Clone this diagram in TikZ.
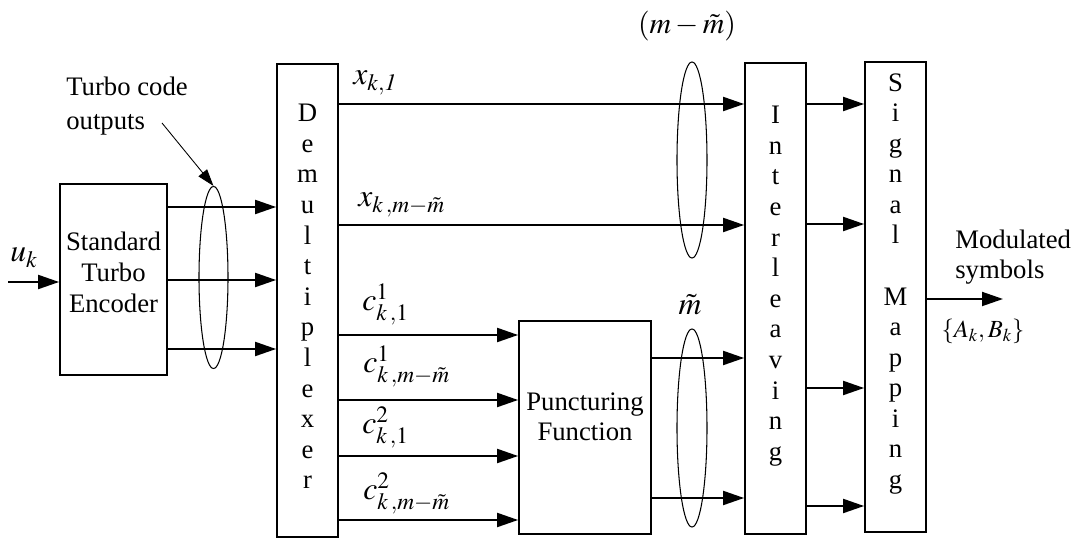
\documentclass[tikz,border=0pt]{standalone}
\usepackage{mathptmx}
\usepackage{fontspec}
\setmainfont{Liberation Serif}
\usetikzlibrary{arrows.meta}
\usetikzlibrary{shapes.geometric}

\begin{document}
\begin{tikzpicture}[x=0.2mm, y=-0.2mm,
  blk/.style={draw, line width=1pt, inner sep=0pt},
  bundle/.style={draw, ellipse, line width=0.6pt, inner sep=0pt,
    minimum width=6mm},
  txt/.style={inner sep=0pt, align=center,
    font=\fontsize{15.2}{17.4}\selectfont},
  lbl/.style={inner sep=0pt, anchor=base west,
    font=\fontsize{18}{20}\selectfont},
  sig/.style={line width=1.1pt, -{Triangle[length=4.2mm, width=2.8mm]}}]
  \useasboundingbox (0,0) rectangle (1073,538);
  % the five blocks, left to right
  \node[blk, minimum width=21.4mm, minimum height=38.2mm] (enc) at (113.5,279.5) {};
  \node[blk, minimum width=12.2mm, minimum height=94.6mm] (dmx) at (307.5,300.5) {};
  \node[blk, minimum width=26.4mm, minimum height=42.6mm] (pun) at (585,427.5) {};
  \node[blk, minimum width=12.2mm, minimum height=94.2mm] (intl) at (775.5,298.5) {};
  \node[blk, minimum width=12.2mm, minimum height=94mm] (map) at (895.5,297) {};
  % block texts
  \node[txt, anchor=north] (enc-t) at (113.5,232) {Standard\\Turbo\\Encoder};
  \node[txt, anchor=north] (dmx-t) at (307.5,104)
    {D\\e\\m\\u\\l\\t\\i\\p\\l\\e\\x\\e\\r};
  \node[txt, anchor=north] (pun-t) at (585,392) {Puncturing\\Function};
  \node[txt, anchor=north] (intl-t) at (775.5,106)
    {I\\n\\t\\e\\r\\l\\e\\a\\v\\i\\n\\g};
  \node[txt, anchor=north] (map-t) at (895.5,73)
    {S\\i\\g\\n\\a\\l\\\mbox{}\\M\\a\\p\\p\\i\\n\\g};
  % bundles of lines
  \node[bundle, minimum width=5.8mm, minimum height=36.4mm] (b1) at (213.5,277.5) {};
  \node[bundle, minimum height=39.2mm] (b2) at (692,160) {};
  \node[bundle, minimum height=39.6mm] (b3) at (692,428) {};
  % input and encoder outputs
  \coordinate (uin) at (8,282);
  \draw[sig] (uin) -- (enc.west |- uin);
  \node[lbl] (uk) at (10,262) {$u_k$};
  \foreach \y in {207,280,349}
    \draw[sig] (enc.east |- 0,\y) -- (dmx.west |- 0,\y);
  \node[txt, anchor=north west, align=left,
    font=\fontsize{15.2}{19}\selectfont] (tco) at (66,77) {Turbo code\\outputs};
  \coordinate (tco-a) at (162,123);
  \draw[line width=0.5pt, -{Triangle[length=3.4mm, width=2.2mm]}] (tco-a) -- (b1.north);
  % systematic bits straight to the interleaver
  \foreach \y in {104,225}
    \draw[sig] (dmx.east |- 0,\y) -- (intl.west |- 0,\y);
  \node[lbl] (x1) at (353,85) {$x_{k,\mathit{1}}$};
  \node[lbl] (xm) at (358,207) {$x_{k\,,m-\tilde{m}}$};
  \node[lbl, anchor=center, font=\fontsize{17}{19}\selectfont] (mmt) at (687,26)
    {$(m-\tilde{m})$};
  % parity bits through the puncturing
  \foreach \y in {335,400,456,520}
    \draw[sig] (dmx.east |- 0,\y) -- (pun.west |- 0,\y);
  \node[lbl] (c11) at (362,311) {$c^{1}_{k\,,1}$};
  \node[lbl] (c1m) at (363,373) {$c^{1}_{k\,,m-\tilde{m}}$};
  \node[lbl] (c21) at (362,434) {$c^{2}_{k\,,1}$};
  \node[lbl] (c2m) at (363,500) {$c^{2}_{k\,,m-\tilde{m}}$};
  \foreach \y in {358,498}
    \draw[sig] (pun.east |- 0,\y) -- (intl.west |- 0,\y);
  \node[lbl, anchor=center] (mt) at (690,305) {$\tilde{m}$};
  % interleaver to mapper, and the output
  \foreach \y in {104,224,388,506}
    \draw[sig] (intl.east |- 0,\y) -- (map.west |- 0,\y);
  \coordinate (out) at (1003,299);
  \draw[sig] (map.east |- out) -- (out);
  \node[txt, anchor=north west, align=left,
    font=\fontsize{15.2}{17}\selectfont] (mod) at (955,230) {Modulated\\symbols};
  \node[lbl, anchor=center, font=\fontsize{14}{16}\selectfont] (ab) at (983,331)
    {$\{A_k,B_k\}$};
\end{tikzpicture}
\end{document}
